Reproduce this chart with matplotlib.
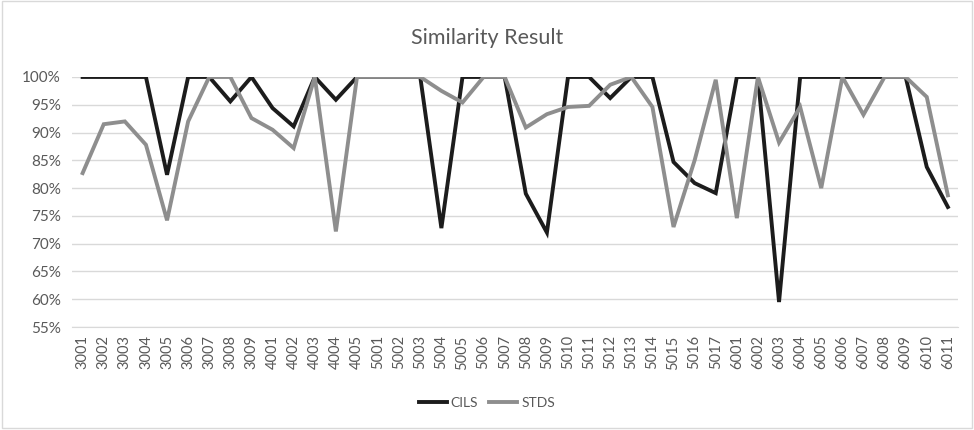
#!/usr/bin/env python3
"""Similarity result line chart (CILS vs STDS)."""
import matplotlib
matplotlib.use("Agg")
import matplotlib.pyplot as plt
from matplotlib.patches import Rectangle
from matplotlib.ticker import PercentFormatter, MultipleLocator

plt.rcParams["font.family"] = ["Lato", "DejaVu Sans"]

categories = (
    [str(3000 + i) for i in range(1, 10)]
    + [str(4000 + i) for i in range(1, 6)]
    + [str(5000 + i) for i in range(1, 18)]
    + [str(6000 + i) for i in range(1, 12)]
)

cils = [100, 100, 100, 100, 82.4, 100, 100, 95.6, 100,
        94.4, 91.1, 100, 95.9, 100,
        100, 100, 100, 72.8, 100, 100, 100, 79.0, 72.0, 100, 100, 96.2, 100, 100,
        84.7, 80.9, 79.1,
        100, 100, 59.5, 100, 100, 100, 100, 100, 100, 83.8, 76.6]

stds = [82.7, 91.5, 92.0, 87.8, 74.2, 92.0, 100, 100, 92.6,
        90.5, 87.2, 100, 72.2, 100,
        100, 100, 100, 97.5, 95.4, 100, 100, 90.9, 93.3, 94.6, 94.8, 98.6, 100, 94.6,
        73.0, 85.0, 99.5,
        74.6, 100, 88.2, 94.6, 80.0, 100, 93.2, 100, 100, 96.4, 78.7]

fig = plt.figure(figsize=(9.74, 4.3), dpi=100)
ax = fig.add_axes([0.074, 0.2395, 0.91, 0.5815])

x = range(len(categories))
ax.plot(x, cils, color="#1c1c1c", lw=2.8, label="CILS", solid_joinstyle="miter")
ax.plot(x, stds, color="#8e8e8e", lw=2.8, label="STDS", solid_joinstyle="miter")

ax.set_xlim(-0.5, len(categories) - 0.5)
ax.set_ylim(55, 100)
ax.yaxis.set_major_locator(MultipleLocator(5))
ax.yaxis.set_major_formatter(PercentFormatter(decimals=0))
ax.grid(axis="y", color="#d9d9d9", lw=1.0)
ax.set_axisbelow(True)
for s in ("top", "right", "left"):
    ax.spines[s].set_visible(False)
ax.spines["bottom"].set_color("#d9d9d9")
ax.set_xticks(list(x))
ax.set_xticklabels(categories, rotation=90, fontsize=10.5, color="#595959")
ax.tick_params(axis="y", length=0, labelsize=11, labelcolor="#595959", pad=8)
ax.tick_params(axis="x", length=0, pad=6)

fig.suptitle("Similarity Result", y=0.935, fontsize=15.5, color="#595959")
fig.legend(loc="center", bbox_to_anchor=(0.5, 0.063), ncol=2, frameon=False,
           fontsize=10, handlelength=2.0, columnspacing=0.8, handletextpad=0.3,
           labelcolor="#595959")

fig.patches.append(Rectangle((0.002, 0.004), 0.996, 0.994, transform=fig.transFigure,
                             fill=False, edgecolor="#d9d9d9", lw=1))

fig.savefig("out.png", dpi=100)
